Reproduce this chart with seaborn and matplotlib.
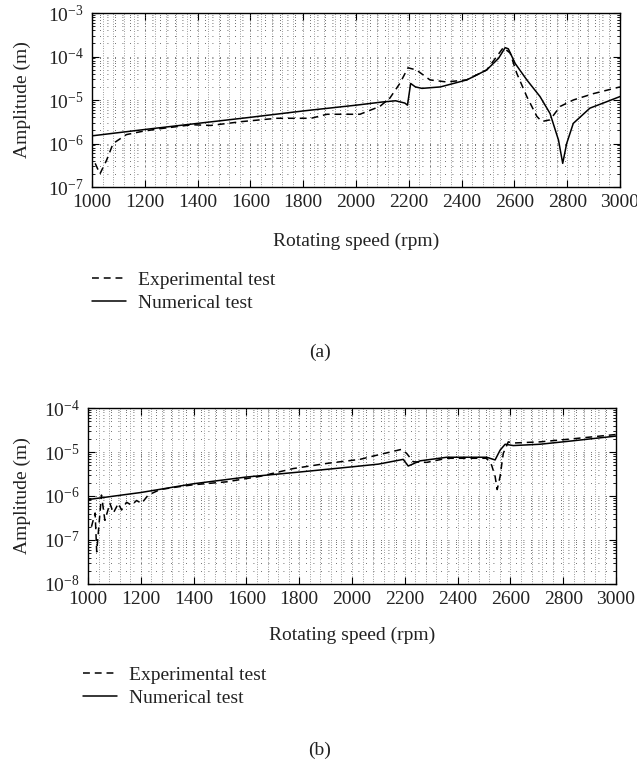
import numpy as np
import pandas as pd
import seaborn as sns
import matplotlib.pyplot as plt
from matplotlib.ticker import LogLocator, MultipleLocator, NullFormatter, LogFormatterMathtext

# values (rpm, amplitude in m)
rpm_a_num = [1000, 1200, 1400, 1600, 1800, 2000, 2100, 2150, 2185, 2195, 2207, 2225, 2250,
             2320, 2420, 2495, 2540, 2565, 2577, 2603, 2647, 2697, 2735, 2767, 2783, 2798,
             2823, 2886, 2949, 3000]
amp_a_num = [1.5e-6, 2.1e-6, 2.9e-6, 4.0e-6, 5.6e-6, 7.6e-6, 9.0e-6, 9.6e-6, 8.5e-6, 7.6e-6,
             2.4e-5, 2.0e-5, 1.85e-5, 2.0e-5, 2.9e-5, 4.9e-5, 9.1e-5, 1.6e-4, 1.5e-4, 6.9e-5,
             2.9e-5, 1.2e-5, 4.9e-6, 1.2e-6, 3.5e-7, 1.0e-6, 2.9e-6, 6.5e-6, 9.1e-6, 1.2e-5]

rpm_a_exp = [1012, 1030, 1055, 1080, 1130, 1190, 1260, 1380, 1450, 1570, 1700, 1830, 1890,
             2015, 2090, 2128, 2166, 2197, 2229, 2280, 2343, 2419, 2495, 2558, 2584, 2609,
             2647, 2685, 2704, 2735, 2773, 2823, 2899, 3000]
amp_a_exp = [3.5e-7, 2.0e-7, 4.1e-7, 1.0e-6, 1.6e-6, 1.9e-6, 2.2e-6, 2.7e-6, 2.6e-6, 3.2e-6,
             3.8e-6, 3.8e-6, 4.7e-6, 4.7e-6, 7.1e-6, 1.1e-5, 2.4e-5, 5.5e-5, 4.9e-5, 2.9e-5,
             2.6e-5, 2.9e-5, 4.9e-5, 1.6e-4, 1.2e-4, 4.1e-5, 1.2e-5, 4.2e-6, 3.2e-6, 3.5e-6,
             7.1e-6, 1.0e-5, 1.4e-5, 2.0e-5]

rpm_b_num = [1000, 1200, 1400, 1600, 1800, 2000, 2100, 2194, 2213, 2258, 2359, 2510, 2542,
             2561, 2580, 2611, 2712, 2838, 3000]
amp_b_num = [8.3e-7, 1.2e-6, 1.9e-6, 2.7e-6, 3.5e-6, 4.6e-6, 5.3e-6, 6.8e-6, 4.8e-6, 6.3e-6,
             7.6e-6, 7.6e-6, 6.6e-6, 1.1e-5, 1.5e-5, 1.4e-5, 1.5e-5, 1.8e-5, 2.3e-5]

rpm_b_exp = [1013, 1027, 1033, 1051, 1064, 1083, 1096, 1115, 1127, 1146, 1165, 1184, 1203,
             1228, 1273, 1336, 1399, 1525, 1652, 1777, 1904, 2030, 2081, 2188, 2207, 2232,
             2283, 2359, 2510, 2529, 2542, 2550, 2561, 2573, 2592, 2611, 2712, 2838, 3000]
amp_b_exp = [2.0e-7, 4.1e-7, 5.4e-8, 1.05e-6, 2.8e-7, 6.8e-7, 4.1e-7, 6.8e-7, 4.8e-7, 7.2e-7,
             6.2e-7, 7.9e-7, 6.8e-7, 1.05e-6, 1.4e-6, 1.6e-6, 1.8e-6, 2.1e-6, 2.8e-6, 4.2e-6,
             5.5e-6, 6.8e-6, 8.1e-6, 1.15e-5, 9.3e-6, 6.0e-6, 5.8e-6, 7.2e-6, 7.2e-6, 5.0e-6,
             2.8e-6, 1.4e-6, 2.8e-6, 9.3e-6, 1.7e-5, 1.6e-5, 1.7e-5, 2.0e-5, 2.5e-5]

xticks = [1000, 1200, 1400, 1600, 1800, 2000, 2200, 2400, 2600, 2800, 3000]

sns.set_style('ticks')
plt.rcParams['font.family'] = ['Liberation Serif', 'DejaVu Serif']
plt.rcParams['mathtext.fontset'] = 'custom'
plt.rcParams['mathtext.rm'] = 'Liberation Serif'
plt.rcParams['mathtext.it'] = 'Liberation Serif:italic'
FS = 14

fig = plt.figure(figsize=(6.37, 7.63), dpi=100)
ax_a = fig.add_axes([92/637, 1-187/763, 528/637, 174/763])
ax_b = fig.add_axes([88/637, 1-584/763, 528/637, 176/763])

dash = (0, (4.5, 3.2))


def panel(ax, rn, an, re, ae, ylim):
    sns.lineplot(x=re, y=ae, ax=ax, color='black', lw=1.1, linestyle=dash,
                 estimator=None, sort=False, label='Experimental test')
    sns.lineplot(x=rn, y=an, ax=ax, color='black', lw=1.1,
                 estimator=None, sort=False, label='Numerical test')
    ax.set_yscale('log')
    ax.set_xlim(1000, 3000)
    ax.set_ylim(*ylim)
    ax.set_xticks(xticks)
    ax.xaxis.set_minor_locator(MultipleLocator(40))
    ax.yaxis.set_major_locator(LogLocator(base=10, numticks=10))
    ax.yaxis.set_major_formatter(LogFormatterMathtext())
    ax.yaxis.set_minor_locator(LogLocator(base=10, subs=np.arange(2, 10), numticks=20))
    ax.yaxis.set_minor_formatter(NullFormatter())
    ax.xaxis.grid(True, which='both', ls=(0, (1, 2.5)), color='0.25', lw=0.5)
    ax.yaxis.grid(True, which='both', ls=(0, (1, 8)), color='0.25', lw=0.6)
    ax.set_axisbelow(True)
    ax.tick_params(which='both', direction='in', top=True, right=True, labelsize=FS,
                   color='black', labelcolor='#222222')
    ax.tick_params(axis='x', which='major', length=5, pad=5)
    ax.tick_params(axis='x', which='minor', length=0)
    ax.tick_params(axis='y', which='major', length=5, pad=6)
    ax.tick_params(axis='y', which='minor', length=2.5)
    for s in ax.spines.values():
        s.set_color('black')
        s.set_linewidth(1.0)
    ax.set_xlabel('Rotating speed (rpm)', fontsize=FS, color='#222222')
    ax.set_ylabel('Amplitude (m)', fontsize=FS, color='#222222')
    ax.get_legend().remove()


panel(ax_a, rpm_a_num, amp_a_num, rpm_a_exp, amp_a_exp, (1e-7, 1e-3))
panel(ax_b, rpm_b_num, amp_b_num, rpm_b_exp, amp_b_exp, (1e-8, 1e-4))

ax_a.xaxis.set_label_coords(0.5, -0.26)
ax_a.yaxis.set_label_coords(-0.115, 0.5)
ax_b.xaxis.set_label_coords(0.5, -0.245)
ax_b.yaxis.set_label_coords(-0.108, 0.5)

for ax, x0, y0 in [(ax_a, 92, 271), (ax_b, 83, 666)]:
    h, l = ax.get_legend_handles_labels()
    fig.legend(h, l, loc='upper left', bbox_to_anchor=(x0/637, 1-y0/763),
               bbox_transform=fig.transFigure, frameon=False, fontsize=FS,
               handlelength=1.75, handletextpad=0.6, labelspacing=0.3,
               borderpad=0, borderaxespad=0, labelcolor='#222222')

fig.text(320/637, 1-352/763, '(a)', ha='center', va='center', fontsize=FS, color='#222222')
fig.text(320/637, 1-750/763, '(b)', ha='center', va='center', fontsize=FS, color='#222222')

fig.savefig('out.png', dpi=100)
